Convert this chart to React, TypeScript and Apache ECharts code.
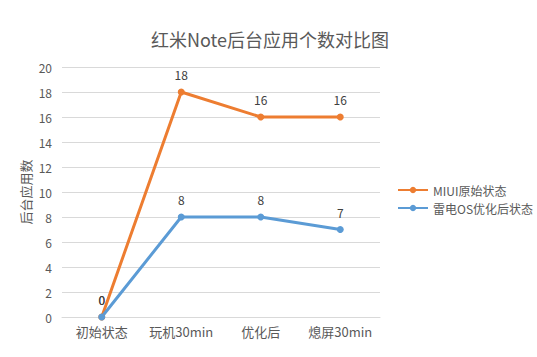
import React, { useEffect, useRef } from "react";
import * as echarts from "echarts";

const categories = ["初始状态", "玩机30min", "优化后", "熄屏30min"];
const miuiValues = [0, 18, 16, 16];
const leidianValues = [0, 8, 8, 7];
const seriesNames = ["MIUI原始状态", "雷电OS优化后状态"];
const titleText = "红米Note后台应用个数对比图";
const yAxisName = "后台应用数";

const FONT = "'Noto Sans CJK SC', 'Microsoft YaHei', sans-serif";

export default function App() {
  const ref = useRef<HTMLDivElement>(null);
  useEffect(() => {
    if (!ref.current) return;
    const chart = echarts.init(ref.current, undefined, { renderer: "svg" });
    chart.setOption({
      animation: false,
      backgroundColor: "#ffffff",
      textStyle: { fontFamily: FONT },
      title: {
        text: titleText,
        left: 265,
        textAlign: "center",
        top: 25,
        textStyle: { fontFamily: FONT, fontSize: 18, fontWeight: "normal", color: "#595959" },
      },
      legend: {
        orient: "vertical",
        left: 392,
        top: 179,
        itemGap: 6,
        itemWidth: 30,
        itemHeight: 8,
        textStyle: { fontFamily: FONT, fontSize: 12, color: "#595959" },
        data: seriesNames,
      },
      grid: { left: 62, right: 157, top: 67, bottom: 40, containLabel: false },
      xAxis: {
        type: "category",
        data: categories,
        boundaryGap: true,
        axisLine: { lineStyle: { color: "#d9d9d9" } },
        axisTick: { show: false },
        axisLabel: { color: "#595959", fontSize: 13, fontFamily: FONT, margin: 8, interval: 0 },
      },
      yAxis: {
        type: "value",
        min: 0,
        max: 20,
        interval: 2,
        name: yAxisName,
        nameLocation: "middle",
        nameGap: 30,
        nameMoveOverlap: false,
        nameRotate: 90,
        nameTextStyle: { color: "#595959", fontSize: 13, fontFamily: FONT },
        axisLine: { show: false },
        axisTick: { show: false },
        axisLabel: { color: "#595959", fontSize: 12, fontFamily: FONT, margin: 10 },
        splitLine: { lineStyle: { color: "#d9d9d9" } },
      },
      series: [
        {
          name: seriesNames[0],
          type: "line",
          data: miuiValues,
          symbol: "circle",
          symbolSize: 7,
          lineStyle: { width: 3, color: "#ED7D31" },
          itemStyle: { color: "#ED7D31" },
          label: { show: true, position: "top", distance: 8, color: "#404040", fontSize: 12, fontFamily: FONT },
        },
        {
          name: seriesNames[1],
          type: "line",
          data: leidianValues,
          symbol: "circle",
          symbolSize: 7,
          lineStyle: { width: 3, color: "#5B9BD5" },
          itemStyle: { color: "#5B9BD5" },
          label: { show: true, position: "top", distance: 8, color: "#404040", fontSize: 12, fontFamily: FONT },
        },
      ],
    });
    return () => chart.dispose();
  }, []);
  return <div ref={ref} style={{ position: "absolute", left: 0, top: 0, width: 537, height: 357 }} />;
}
